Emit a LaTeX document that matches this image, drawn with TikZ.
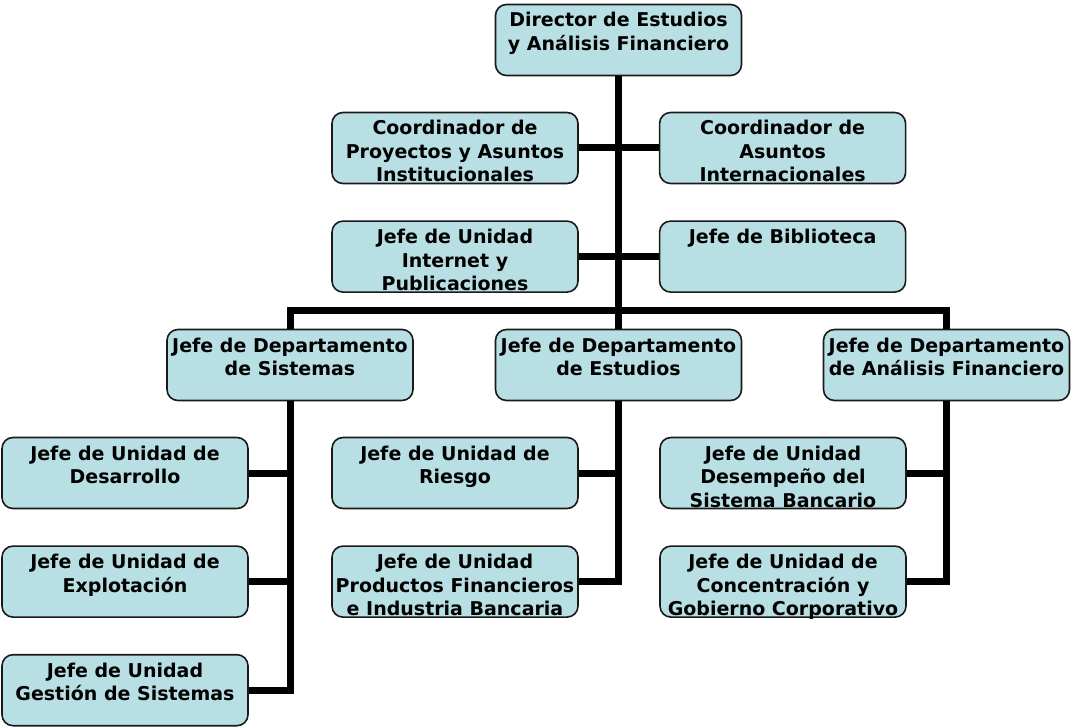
\documentclass[tikz,border=0pt]{standalone}
\usepackage{fontspec}
\setmainfont{DejaVu Sans}
\usepackage{xcolor}
\usetikzlibrary{positioning}
\definecolor{boxfill}{HTML}{B8DFE3}
\definecolor{boxline}{HTML}{1A1A1A}
\newcommand{\boxtxt}[1]{\parbox[c][71pt][t]{240pt}{\centering\rule{0pt}{22.5pt}#1}}

\begin{document}
\begin{tikzpicture}[
    x=1pt, y=-1pt,
    node distance=36pt and 80pt,
    box/.style={rectangle, draw=boxline, line width=1.6pt, fill=boxfill, rounded corners=11pt, inner xsep=3pt, inner ysep=0pt, font=\fontsize{19}{23.5}\selectfont\bfseries},
    conn/.style={line width=7pt, black}
]
\useasboundingbox (0,0) rectangle (1071,727);

% Director
\node[box] (dir) at (618.5,40) {\boxtxt{Director de Estudios\\y Análisis Financiero}};

% Staff
\node[box] (cpa) at (455,148) {\boxtxt{Coordinador de\\Proyectos y Asuntos\\Institucionales}};
\node[box, right=of cpa] (cai) {\boxtxt{Coordinador de\\Asuntos\\Internacionales}};
\node[box, below=of cpa] (jui) {\boxtxt{Jefe de Unidad\\Internet y\\Publicaciones}};
\node[box, right=of jui] (jbi) {\boxtxt{Jefe de Biblioteca}};

% Departments
\node[box] (sis) at (290,365) {\boxtxt{Jefe de Departamento\\de Sistemas}};
\node[box] (est) at (618.5,365) {\boxtxt{Jefe de Departamento\\de Estudios}};
\node[box] (ana) at (946.5,365) {\boxtxt{Jefe de Departamento\\de Análisis Financiero}};

% Units - Sistemas
\node[box] (des) at (125,473) {\boxtxt{Jefe de Unidad de\\Desarrollo}};
\node[box, below=of des] (exp) {\boxtxt{Jefe de Unidad de\\Explotación}};
\node[box, below=of exp] (ges) {\boxtxt{Jefe de Unidad\\Gestión de Sistemas}};

% Units - Estudios
\node[box] (rie) at (455,473) {\boxtxt{Jefe de Unidad de\\Riesgo}};
\node[box, below=of rie] (pro) {\boxtxt{Jefe de Unidad\\Productos Financieros\\e Industria Bancaria}};

% Units - Analisis
\node[box] (dsb) at (783,473) {\boxtxt{Jefe de Unidad\\Desempeño del\\Sistema Bancario}};
\node[box, below=of dsb] (cgc) {\boxtxt{Jefe de Unidad de\\Concentración y\\Gobierno Corporativo}};

% Trunk and staff links
\draw[conn] (dir.south) -- (est.north);
\draw[conn] (cpa.east) -- (cai.west);
\draw[conn] (jui.east) -- (jbi.west);

% Department bus
\draw[conn] (sis.north) -- ++(0,-18) -| (ana.north);

% Unit links
\draw[conn] (sis.south) |- (ges.east);
\draw[conn] (des.east) -- (des.east -| sis.south);
\draw[conn] (exp.east) -- (exp.east -| sis.south);
\draw[conn] (est.south) |- (pro.east);
\draw[conn] (rie.east) -- (rie.east -| est.south);
\draw[conn] (ana.south) |- (cgc.east);
\draw[conn] (dsb.east) -- (dsb.east -| ana.south);

\end{tikzpicture}
\end{document}
